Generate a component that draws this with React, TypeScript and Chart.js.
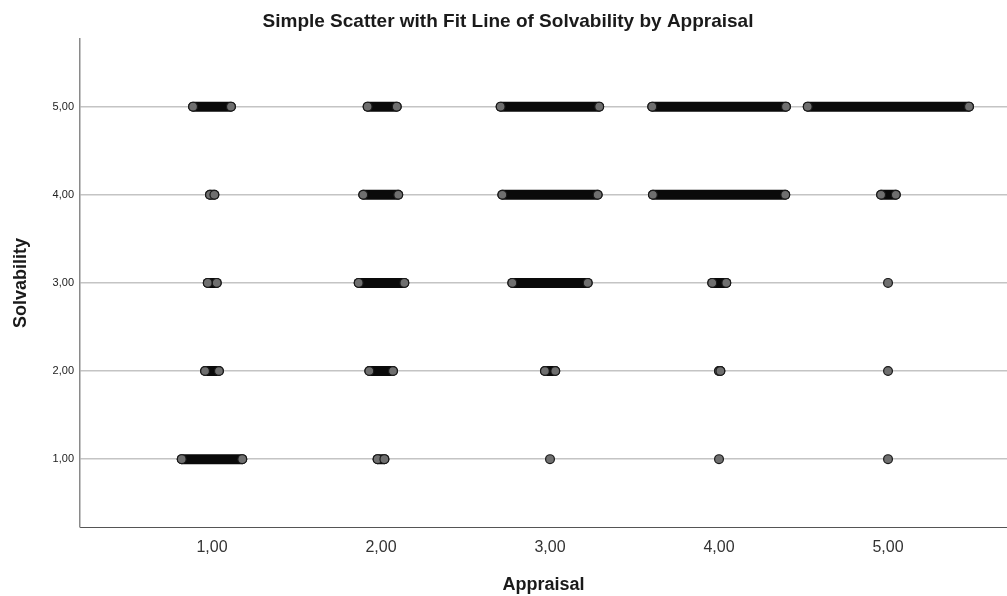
import React, { useEffect, useRef } from "react";
import { Chart, registerables } from "chart.js";

Chart.register(...registerables);

// Appraisal categories (x) and Solvability levels (y)
const appraisalTicks = [1, 2, 3, 4, 5];
const solvabilityTicks = [1, 2, 3, 4, 5];

// Horizontal extent of the jittered point clouds, per Solvability level,
// one entry per Appraisal category (1..5): leftmost and rightmost point.
const solv5Low = [0.888, 1.921, 2.708, 3.605, 4.525];
const solv5High = [1.112, 2.093, 3.291, 4.396, 5.479];
const solv4Low = [0.988, 1.895, 2.718, 3.609, 4.959];
const solv4High = [1.014, 2.102, 3.282, 4.392, 5.046];
const solv3Low = [0.975, 1.868, 2.777, 3.96, 5.0];
const solv3High = [1.028, 2.138, 3.223, 4.043, 5.0];
const solv2Low = [0.959, 1.931, 2.97, 4.0, 5.0];
const solv2High = [1.041, 2.071, 3.031, 4.008, 5.0];
const solv1Low = [0.821, 1.98, 3.0, 4.0, 5.0];
const solv1High = [1.179, 2.02, 3.0, 4.0, 5.0];

const rows = [
  { y: 5, low: solv5Low, high: solv5High },
  { y: 4, low: solv4Low, high: solv4High },
  { y: 3, low: solv3Low, high: solv3High },
  { y: 2, low: solv2Low, high: solv2High },
  { y: 1, low: solv1Low, high: solv1High },
];

const FONT = "'Liberation Sans', Arial, sans-serif";
const fmt = (v: number) => v.toFixed(2).replace(".", ",");

export default function App() {
  const ref = useRef<HTMLCanvasElement | null>(null);

  useEffect(() => {
    if (!ref.current) return;
    const datasets: any[] = [];
    rows.forEach((r) => {
      r.low.forEach((lo, i) => {
        const hi = r.high[i];
        const single = lo === hi;
        datasets.push({
          type: "line",
          data: single ? [{ x: lo, y: r.y }] : [{ x: lo, y: r.y }, { x: hi, y: r.y }],
          showLine: !single,
          borderColor: "#0a0a0a",
          borderWidth: 10,
          borderCapStyle: "round",
          pointRadius: 4.4,
          pointBackgroundColor: "#6f6f6f",
          pointBorderColor: "#1a1a1a",
          pointBorderWidth: 1.2,
          tension: 0,
          clip: false,
        });
      });
    });

    const chart = new Chart(ref.current, {
      type: "scatter",
      data: { datasets },
      options: {
        animation: false,
        responsive: false,
        events: [],
        layout: { autoPadding: false, padding: { left: 9, right: 0, top: 0, bottom: 0 } },
        plugins: {
          legend: { display: false },
          tooltip: { enabled: false },
          title: {
            display: true,
            text: "Simple Scatter with Fit Line of Solvability by Appraisal",
            color: "#1a1a1a",
            font: { family: FONT, size: 19, weight: "bold" },
            padding: { top: 10, bottom: 6 },
          },
        },
        scales: {
          x: {
            type: "linear",
            min: 0.219,
            max: 5.704,
            afterBuildTicks: (s: any) => {
              s.ticks = appraisalTicks.map((v) => ({ value: v }));
            },
            afterFit: (s: any) => {
              s.height = 69;
              s.paddingRight = 0;
              s.paddingLeft = 0;
            },
            grid: { display: false, drawTicks: false },
            border: { display: true, color: "#555555", width: 1 },
            ticks: {
              color: "#333333",
              padding: 11,
              font: { family: FONT, size: 16 },
              callback: (v: any) => fmt(Number(v)),
              maxRotation: 0,
            },
            title: {
              display: true,
              text: "Appraisal",
              color: "#1a1a1a",
              font: { family: FONT, size: 18, weight: "bold" },
              padding: { top: 12, bottom: 0 },
            },
          },
          y: {
            type: "linear",
            min: 0.23,
            max: 5.77,
            afterBuildTicks: (s: any) => {
              s.ticks = solvabilityTicks.map((v) => ({ value: v }));
            },
            afterFit: (s: any) => {
              s.width = 71;
              s.paddingTop = 0;
              s.paddingBottom = 0;
            },
            grid: { display: true, drawTicks: false, color: "#c4c4c4", lineWidth: 1.6 },
            border: { display: true, color: "#8a8a8a", width: 1.5 },
            ticks: {
              color: "#222222",
              padding: 6,
              font: { family: FONT, size: 11 },
              callback: (v: any) => fmt(Number(v)),
            },
            title: {
              display: true,
              text: "Solvability",
              color: "#1a1a1a",
              font: { family: FONT, size: 18, weight: "bold" },
              padding: { top: 1, bottom: 0 },
            },
          },
        },
      },
    });
    return () => chart.destroy();
  }, []);

  return (
    <div style={{ position: "absolute", left: 0, top: 0, width: 1007, height: 596, background: "#fff" }}>
      <canvas ref={ref} width={1007} height={596} />
    </div>
  );
}
